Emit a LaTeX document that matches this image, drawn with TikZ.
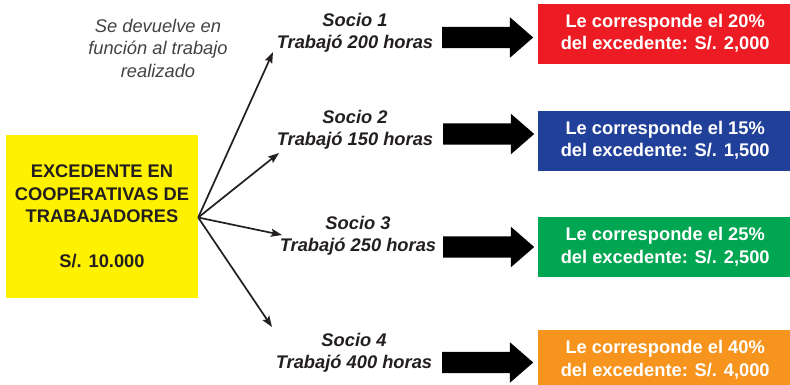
\documentclass[tikz,border=0pt]{standalone}
\usepackage{fontspec}
\setmainfont{Liberation Sans}
\usetikzlibrary{shapes.arrows,arrows.meta}
\definecolor{ink}{HTML}{231F20}
\definecolor{amarillo}{HTML}{FFF200}
\definecolor{rojo}{HTML}{ED1C24}
\definecolor{azul}{HTML}{21409A}
\definecolor{verde}{HTML}{00A651}
\definecolor{naranja}{HTML}{F7941D}
\newcommand{\txt}{\fontsize{18.3}{22.5}\selectfont}
\begin{document}
\begin{tikzpicture}[x=1pt,y=-1pt,
  socio/.style={align=center,text=ink,font=\txt\bfseries\itshape},
  monto/.style={anchor=west,minimum width=254pt,minimum height=60pt,inner sep=0pt,
    align=center,text=white,font=\txt\bfseries},
  bloque/.style={single arrow,fill=black,anchor=tail,minimum height=91pt,
    inner xsep=0pt,inner ysep=10.5pt,single arrow head extend=9.5pt,
    single arrow tip angle=82},
  reparte/.style={-{Stealth[length=11pt,width=8pt,inset=2pt]},line width=1.7pt,ink}]
\useasboundingbox (0,0) rectangle (790,384);
% excedente
\node [fill=amarillo,minimum width=192pt,minimum height=163pt,inner sep=0pt,
  align=center,text=ink,font=\txt\bfseries] (exc) at (102,216.5)
  {EXCEDENTE EN\\COOPERATIVAS DE\\TRABAJADORES\\[22pt]S/. 10.000};
\node [align=center,text=ink!85,font=\txt\itshape] (nota) at (158,48)
  {Se devuelve en\\funci\'on al trabajo\\realizado};
% socios
\node [socio] (s1) at (355,33) {Socio 1\\Trabaj\'o 200 horas};
\node [socio] (s2) at (355,130) {Socio 2\\Trabaj\'o 150 horas};
\node [socio] (s3) at (358,236) {Socio 3\\Trabaj\'o 250 horas};
\node [socio] (s4) at (354,353) {Socio 4\\Trabaj\'o 400 horas};
\coordinate (t1) at (273,52);
\coordinate (t2) at (279,153);
\coordinate (t3) at (282,235);
\coordinate (t4) at (272,327);
\foreach \t in {t1,t2,t3,t4}
  \draw [reparte] ([yshift=-1pt]exc.east) -- (\t);
% flechas
\node [bloque] (b1) at (442,37.5) {};
\node [bloque] (b2) at (443,134) {};
\node [bloque] (b3) at (443,247) {};
\node [bloque] (b4) at (442,362.5) {};
% montos
\node [monto,fill=rojo] (m1) at (538,33.5) {Le corresponde el 20\%\\del excedente: S/. 2,000};
\node [monto,fill=azul] (m2) at (538,140.5) {Le corresponde el 15\%\\del excedente: S/. 1,500};
\node [monto,fill=verde] (m3) at (538,247) {Le corresponde el 25\%\\del excedente: S/. 2,500};
\node [monto,fill=naranja] (m4) at (538,360) {Le corresponde el 40\%\\del excedente: S/. 4,000};
\end{tikzpicture}
\end{document}
